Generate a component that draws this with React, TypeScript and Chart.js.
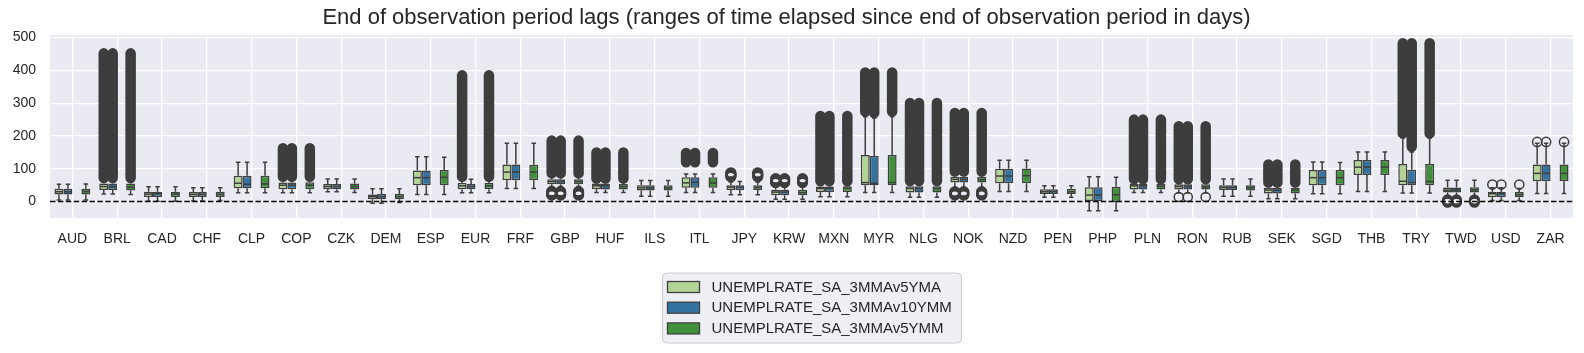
import React, { useEffect, useRef } from 'react';
import { Chart, registerables } from 'chart.js';

Chart.register(...registerables);

// ---------------- DATA ----------------
const categories = [
  'AUD', 'BRL', 'CAD', 'CHF', 'CLP', 'COP', 'CZK', 'DEM', 'ESP', 'EUR', 'FRF', 'GBP',
  'HUF', 'ILS', 'ITL', 'JPY', 'KRW', 'MXN', 'MYR', 'NLG', 'NOK', 'NZD', 'PEN', 'PHP',
  'PLN', 'RON', 'RUB', 'SEK', 'SGD', 'THB', 'TRY', 'TWD', 'USD', 'ZAR',
];

const seriesNames = [
  'UNEMPLRATE_SA_3MMAv5YMA',
  'UNEMPLRATE_SA_3MMAv10YMM',
  'UNEMPLRATE_SA_3MMAv5YMM',
];

const yTickValues = [0, 100, 200, 300, 400, 500];

// [whisker low, q1, median, q3, whisker high] per category
const statsV5YMA: number[][] = [
  [5, 22, 30, 39, 53], [23, 35, 46, 55, 64], [1, 14, 23, 30, 45], [2, 14, 22, 29, 42],
  [27, 41, 56, 79, 120], [27, 38, 50, 58, 68], [30, 38, 46, 54, 69], [-5, 7, 15, 22, 39],
  [22, 50, 73, 95, 137], [27, 38, 48, 57, 68], [40, 65, 90, 113, 178], [46, 53, 61, 68, 76],
  [28, 38, 48, 55, 62], [16, 34, 42, 50, 64], [28, 42, 57, 74, 84], [21, 35, 44, 50, 60],
  [7, 19, 29, 36, 44], [15, 29, 40, 46, 53], [28, 50, 58, 142, 259], [13, 28, 40, 47, 54],
  [44, 58, 68, 76, 82], [31, 56, 78, 100, 126], [13, 23, 30, 38, 48], [-28, 0, 20, 44, 76],
  [28, 37, 48, 54, 60], [26, 37, 46, 53, 60], [16, 35, 43, 50, 69], [9, 25, 35, 42, 50],
  [24, 50, 73, 96, 121], [31, 81, 105, 127, 151], [26, 50, 62, 115, 194], [11, 28, 35, 43, 65],
  [3, 13, 24, 29, 42], [25, 62, 86, 113, 178],
];
const statsV10YMM: number[][] = [
  [5, 22, 30, 39, 53], [23, 35, 45, 55, 64], [1, 14, 24, 30, 45], [2, 14, 22, 29, 42],
  [27, 41, 53, 79, 120], [27, 38, 50, 58, 68], [30, 38, 46, 54, 69], [-5, 7, 15, 23, 39],
  [22, 50, 73, 95, 137], [27, 38, 46, 54, 68], [40, 65, 90, 113, 178], [46, 53, 61, 68, 76],
  [28, 37, 48, 55, 62], [16, 34, 42, 50, 64], [28, 42, 59, 74, 84], [21, 35, 44, 50, 61],
  [7, 19, 29, 36, 44], [15, 29, 40, 46, 53], [28, 50, 56, 139, 255], [13, 28, 40, 47, 54],
  [44, 58, 68, 76, 82], [31, 56, 78, 100, 126], [13, 23, 30, 38, 48], [-28, 0, 20, 44, 76],
  [28, 37, 48, 54, 60], [26, 37, 46, 53, 60], [16, 35, 43, 50, 69], [9, 25, 35, 42, 50],
  [24, 50, 73, 96, 121], [31, 81, 105, 127, 151], [26, 50, 58, 97, 151], [11, 28, 36, 43, 65],
  [3, 13, 24, 29, 42], [25, 62, 86, 113, 178],
];
const statsV5YMM: number[][] = [
  [5, 22, 31, 39, 54], [22, 34, 44, 55, 64], [1, 14, 23, 30, 45], [3, 14, 22, 30, 42],
  [27, 41, 54, 79, 120], [27, 38, 50, 59, 68], [28, 37, 46, 55, 69], [-3, 7, 15, 23, 39],
  [22, 50, 74, 96, 135], [27, 38, 48, 57, 68], [40, 65, 90, 112, 178], [46, 53, 61, 68, 76],
  [28, 37, 46, 54, 62], [16, 34, 42, 50, 64], [28, 42, 57, 74, 84], [21, 35, 43, 50, 60],
  [7, 19, 27, 35, 44], [15, 29, 41, 47, 53], [28, 50, 58, 142, 259], [13, 28, 40, 47, 54],
  [44, 58, 67, 76, 82], [31, 56, 79, 101, 126], [13, 23, 30, 39, 48], [-28, -1, 21, 45, 74],
  [28, 37, 47, 54, 60], [26, 37, 45, 53, 60], [16, 34, 43, 50, 69], [9, 25, 35, 42, 50],
  [24, 50, 73, 96, 119], [31, 81, 105, 127, 151], [26, 50, 61, 115, 194], [11, 28, 36, 44, 65],
  [3, 13, 21, 29, 40], [25, 62, 86, 113, 178],
];

// dense runs of outliers: [lowest, highest] value
const outlierRunsV5YMA: Record<string, number[]> = {
  BRL: [72, 452], COP: [76, 163], EUR: [76, 385], GBP: [86, 186], HUF: [70, 150],
  ITL: [120, 148], MXN: [62, 261], MYR: [275, 394], NLG: [63, 301], NOK: [92, 270],
  PLN: [68, 250], RON: [68, 230], SEK: [58, 113], TRY: [208, 483],
};
const outlierRunsV10YMM: Record<string, number[]> = {
  BRL: [72, 452], COP: [76, 163], GBP: [86, 186], HUF: [70, 150],
  ITL: [120, 148], MXN: [62, 261], MYR: [270, 394], NLG: [63, 301], NOK: [92, 270],
  PLN: [68, 250], RON: [68, 230], SEK: [58, 113], TRY: [167, 483],
};
const outlierRunsV5YMM: Record<string, number[]> = {
  BRL: [72, 452], COP: [76, 163], EUR: [76, 385], GBP: [86, 186], HUF: [70, 150],
  ITL: [120, 148], MXN: [62, 261], MYR: [275, 394], NLG: [63, 301], NOK: [92, 270],
  PLN: [68, 250], RON: [68, 230], SEK: [58, 113], TRY: [208, 483],
};

// individual outliers
const outlierPointsV5YMA: Record<string, number[]> = {
  GBP: [20, 22, 25, 28, 31], JPY: [76, 79, 82, 85, 88], KRW: [58, 61, 64, 67, 70],
  NOK: [20, 22, 25, 28, 30], RON: [14], TWD: [-2, 1, 5], USD: [52], ZAR: [182],
};
const outlierPointsV10YMM: Record<string, number[]> = {
  GBP: [20, 22, 25, 28, 31], KRW: [58, 61, 64, 67, 70], NOK: [20, 22, 25, 28, 30],
  RON: [14], TWD: [-2, 1, 5], USD: [52], ZAR: [182],
};
const outlierPointsV5YMM: Record<string, number[]> = {
  GBP: [20, 22, 25, 28, 31], JPY: [76, 79, 82, 85, 88], KRW: [58, 61, 64, 67, 70],
  NOK: [20, 22, 25, 28, 30], RON: [14], TWD: [-2, 1, 5], USD: [52], ZAR: [182],
};

// ---------------- STYLE ----------------
const FONT = "'Liberation Sans', Arial, Helvetica, sans-serif";
const TEXT = '#262626';
const LINE = '#3f3f3f';
const seriesColors = ['#b3d495', '#3274a1', '#40913a'];
const TITLE = 'End of observation period lags (ranges of time elapsed since end of observation period in days)';

const allStats = [statsV5YMA, statsV10YMM, statsV5YMM];
const allRuns = [outlierRunsV5YMA, outlierRunsV10YMM, outlierRunsV5YMM];
const allPoints = [outlierPointsV5YMA, outlierPointsV10YMM, outlierPointsV5YMM];
// hue slots: the third slot is an empty level (kept for dodge layout)
const datasetIndexOfSeries = [0, 1, 3];

const bgPlugin = {
  id: 'bgPlugin',
  beforeDraw(chart: any) {
    const { ctx, chartArea: a } = chart;
    ctx.save();
    ctx.fillStyle = '#eaeaf2';
    ctx.fillRect(a.left, a.top, a.right - a.left, a.bottom - a.top);
    ctx.restore();
  },
};

const boxPlugin = {
  id: 'boxPlugin',
  afterDatasetsDraw(chart: any) {
    const { ctx, chartArea: a } = chart;
    const y = chart.scales.y;
    ctx.save();
    ctx.beginPath();
    ctx.rect(a.left, a.top, a.right - a.left, a.bottom - a.top);
    ctx.clip();
    for (let s = 0; s < 3; s++) {
      const meta = chart.getDatasetMeta(datasetIndexOfSeries[s]);
      const stats = allStats[s];
      stats.forEach((st, i) => {
        const el = meta.data[i];
        if (!el) return;
        const x = el.x;
        const w = el.width;
        const [lo, q1, med, q3, hi] = st;
        ctx.strokeStyle = LINE;
        ctx.lineWidth = 1.5;
        ctx.lineCap = 'butt';
        ctx.beginPath();
        ctx.moveTo(x, y.getPixelForValue(q3));
        ctx.lineTo(x, y.getPixelForValue(hi));
        ctx.moveTo(x, y.getPixelForValue(q1));
        ctx.lineTo(x, y.getPixelForValue(lo));
        ctx.moveTo(x - w / 4, y.getPixelForValue(hi));
        ctx.lineTo(x + w / 4, y.getPixelForValue(hi));
        ctx.moveTo(x - w / 4, y.getPixelForValue(lo));
        ctx.lineTo(x + w / 4, y.getPixelForValue(lo));
        ctx.stroke();
        ctx.beginPath();
        ctx.moveTo(x - w / 2 + 0.75, y.getPixelForValue(med));
        ctx.lineTo(x + w / 2 - 0.75, y.getPixelForValue(med));
        ctx.stroke();

        const cat = categories[i];
        const run = allRuns[s][cat];
        if (run) {
          ctx.strokeStyle = '#3d3d3d';
          ctx.lineWidth = 10.5;
          ctx.lineCap = 'round';
          ctx.beginPath();
          ctx.moveTo(x, y.getPixelForValue(run[0]));
          ctx.lineTo(x, y.getPixelForValue(run[1]));
          ctx.stroke();
        }
        const pts = allPoints[s][cat];
        if (pts) {
          ctx.strokeStyle = '#3d3d3d';
          ctx.lineWidth = pts.length > 1 ? 2 : 1.5;
          pts.forEach((v) => {
            ctx.beginPath();
            ctx.arc(x, y.getPixelForValue(v), 4.6, 0, Math.PI * 2);
            ctx.stroke();
          });
        }
      });
    }
    // zero reference line
    ctx.strokeStyle = '#000';
    ctx.lineWidth = 1.5;
    ctx.lineCap = 'butt';
    ctx.setLineDash([5.5, 2.4]);
    const y0 = y.getPixelForValue(0);
    ctx.beginPath();
    ctx.moveTo(a.left, y0);
    ctx.lineTo(a.right, y0);
    ctx.stroke();
    ctx.setLineDash([]);
    ctx.restore();
  },
};

const legendPlugin = {
  id: 'customLegend',
  afterDraw(chart: any) {
    const { ctx, chartArea: a } = chart;
    const boxW = 299;
    const boxH = 70;
    const left = (a.left + a.right) / 2 - boxW / 2 + 0.5;
    const top = 273;
    ctx.save();
    ctx.fillStyle = 'rgba(234,234,242,0.8)';
    ctx.strokeStyle = '#cccccc';
    ctx.lineWidth = 1;
    ctx.beginPath();
    (ctx as any).roundRect(left, top, boxW, boxH, 4);
    ctx.fill();
    ctx.stroke();
    ctx.font = `15px ${FONT}`;
    ctx.textBaseline = 'middle';
    ctx.textAlign = 'left';
    seriesNames.forEach((name, k) => {
      const cy = top + 14 + k * 20.7;
      ctx.fillStyle = seriesColors[k];
      ctx.fillRect(left + 5, cy - 5.5, 32, 11);
      ctx.strokeStyle = LINE;
      ctx.lineWidth = 1.3;
      ctx.strokeRect(left + 5, cy - 5.5, 32, 11);
      ctx.fillStyle = TEXT;
      ctx.fillText(name, left + 49, cy + 0.5);
    });
    ctx.restore();
  },
};

export default function App() {
  const ref = useRef<HTMLCanvasElement | null>(null);

  useEffect(() => {
    document.body.style.margin = '0';
    const canvas = ref.current;
    if (!canvas) return;
    Chart.defaults.font.family = FONT;

    const makeDs = (s: number) => ({
      label: seriesNames[s],
      data: allStats[s].map((st) => [st[1], st[3]]),
      backgroundColor: seriesColors[s],
      borderColor: LINE,
      borderWidth: 1.5,
      borderSkipped: false,
    });

    const chart = new Chart(canvas, {
      type: 'bar',
      data: {
        labels: categories,
        datasets: [
          makeDs(0),
          makeDs(1),
          { label: '', data: categories.map(() => null), backgroundColor: 'rgba(0,0,0,0)' },
          makeDs(2),
        ] as any,
      },
      options: {
        animation: false,
        responsive: false,
        maintainAspectRatio: false,
        events: [],
        layout: { padding: { left: 0, right: 11, top: 0, bottom: 0 }, autoPadding: false } as any,
        datasets: { bar: { categoryPercentage: 0.8, barPercentage: 1.0 } },
        plugins: {
          legend: { display: false },
          tooltip: { enabled: false },
          title: {
            display: true,
            text: TITLE,
            color: TEXT,
            font: { size: 22, weight: 'normal', family: FONT },
            padding: { top: 5, bottom: 3.6 },
          },
        },
        scales: {
          x: {
            grid: { color: '#ffffff', lineWidth: 1.3, offset: false, drawTicks: false },
            border: { display: false },
            ticks: { color: TEXT, font: { size: 14, family: FONT }, padding: 13, maxRotation: 0, autoSkip: false },
            afterFit: (s: any) => { s.height = 135; },
          },
          y: {
            min: -50,
            max: 508,
            grid: { color: '#ffffff', lineWidth: 1.3, drawTicks: false },
            border: { display: false },
            ticks: { color: TEXT, font: { size: 14, family: FONT }, padding: 14, stepSize: 100 },
            afterBuildTicks: (s: any) => {
              s.ticks = yTickValues.map((v) => ({ value: v }));
            },
            afterFit: (s: any) => { s.width = 50; },
          },
        },
      } as any,
      plugins: [bgPlugin, boxPlugin, legendPlugin],
    });
    return () => chart.destroy();
  }, []);

  return (
    <div style={{ width: 1584, height: 353 }}>
      <canvas ref={ref} width={1584} height={353} style={{ display: 'block' }} />
    </div>
  );
}
